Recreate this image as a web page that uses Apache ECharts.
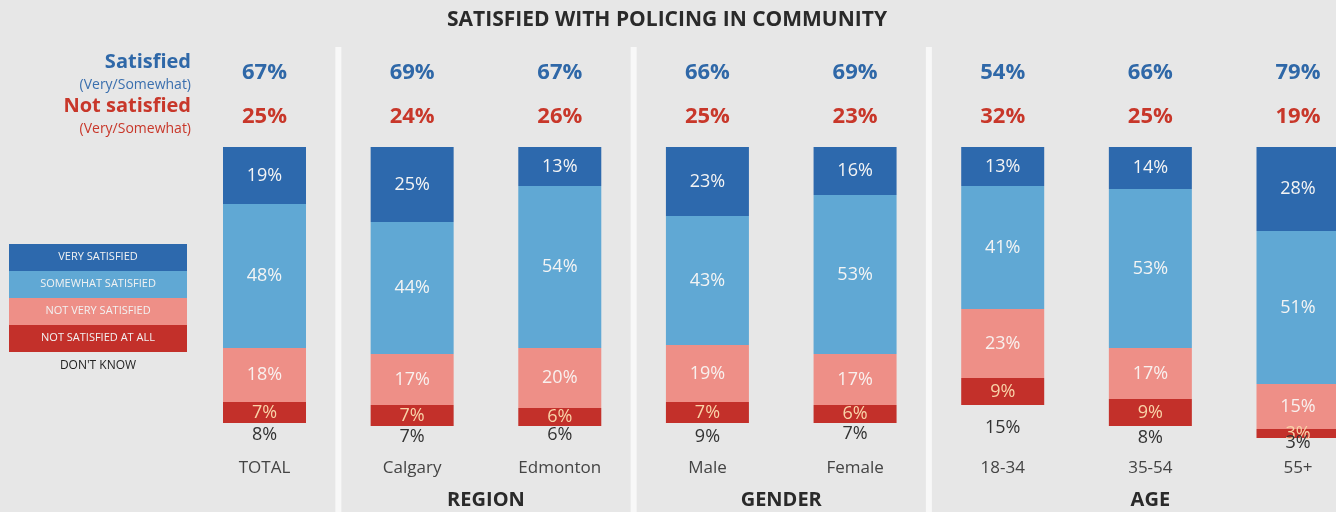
<!DOCTYPE html>
<html>
<head>
<meta charset="utf-8">
<script src="https://cdn.jsdelivr.net/npm/echarts@6/dist/echarts.min.js"></script>
<style>
html,body{margin:0;padding:0;background:#e7e7e7;}
#chart{width:1336px;height:512px;}
</style>
</head>
<body>
<div id="chart"></div>
<script>
const categories = ['TOTAL','Calgary','Edmonton','Male','Female','18-34','35-54','55+'];
const verySatisfied = [19,25,13,23,16,13,14,28];
const somewhatSatisfied = [48,44,54,43,53,41,53,51];
const notVerySatisfied = [18,17,20,19,17,23,17,15];
const notSatisfiedAtAll = [7,7,6,7,6,9,9,3];
const dontKnow = [8,7,6,9,7,15,8,3];
const satisfiedTotal = [67,69,67,66,69,54,66,79];
const notSatisfiedTotal = [25,24,26,25,23,32,25,19];
const groups = [
  {name:'REGION', from:1, to:2},
  {name:'GENDER', from:3, to:4},
  {name:'AGE', from:6, to:6}
];
const separatorsAfter = [0,2,4];
const legendItems = ['VERY SATISFIED','SOMEWHAT SATISFIED','NOT VERY SATISFIED','NOT SATISFIED AT ALL'];
const colors = ['#2d69ad','#60a8d4','#ee8f87','#c3302a'];
const FONT = '"Open Sans", "Noto Sans", sans-serif';

const chart = echarts.init(document.getElementById('chart'));

function seg(name, data, color, labelColor){
  return {
    name, type:'bar', stack:'s', data, barWidth:83, clip:false,
    itemStyle:{color},
    label:{show:true, position:'inside', formatter:'{c}%', color:labelColor, fontFamily:FONT, fontSize:18},
    emphasis:{disabled:true}, silent:true
  };
}

const option = {
  backgroundColor:'#e7e7e7',
  animation:false,
  title:{text:'SATISFIED WITH POLICING IN COMMUNITY', left:662, textAlign:'center', top:5,
    textStyle:{fontFamily:FONT, fontSize:21, fontWeight:'bold', color:'#2a2a2a'}},
  grid:{left:264.5, top:147, width:1033.5, height:300, containLabel:false},
  xAxis:[
    {type:'category', data:categories, position:'bottom', boundaryGap:false,
     axisLine:{show:false}, axisTick:{show:false},
     axisLabel:{margin:13, interval:0, color:'#444', fontFamily:FONT, fontSize:17}},
    {type:'category', data:categories, position:'top', boundaryGap:false,
     axisLine:{show:false}, axisTick:{show:false},
     axisLabel:{margin:8, interval:0,
       formatter:(v, i)=>'{a|'+satisfiedTotal[i]+'%}\n{b|'+notSatisfiedTotal[i]+'%}',
       rich:{
         a:{color:'#2f68a8', fontFamily:FONT, fontSize:22, fontWeight:'bold', lineHeight:44},
         b:{color:'#c8372a', fontFamily:FONT, fontSize:22, fontWeight:'bold', lineHeight:44}
       }}}
  ],
  yAxis:{type:'value', inverse:true, min:0, max:100, show:false, splitLine:{show:false}},
  series:[
    seg('Very satisfied', verySatisfied, colors[0], '#f4f4f4'),
    seg('Somewhat satisfied', somewhatSatisfied, colors[1], '#f4f4f4'),
    seg('Not very satisfied', notVerySatisfied, colors[2], '#f8f0ee'),
    seg('Not satisfied at all', notSatisfiedAtAll, colors[3], '#f9d3a8'),
    {name:"Don't know", type:'bar', stack:'s', data:dontKnow, barWidth:83, clip:false,
     itemStyle:{color:'rgba(0,0,0,0)'},
     label:{show:true, position:'inside', formatter:'{c}%', color:'#333', fontFamily:FONT, fontSize:18},
     silent:true}
  ]
};
chart.setOption(option);

const g = [];
separatorsAfter.forEach(i=>{
  const x1 = chart.convertToPixel({xAxisIndex:0}, categories[i]);
  const x2 = chart.convertToPixel({xAxisIndex:0}, categories[i+1]);
  g.push({type:'rect', x:(x1+x2)/2-3, y:47, shape:{width:6,height:470}, style:{fill:'#f8f8f8'}, silent:true, z:-1});
});
groups.forEach(gr=>{
  const x1 = chart.convertToPixel({xAxisIndex:0}, categories[gr.from]);
  const x2 = chart.convertToPixel({xAxisIndex:0}, categories[gr.to]);
  g.push({type:'text', x:(x1+x2)/2, y:490, style:{text:gr.name, fill:'#2a2a2a', font:'bold 20px '+FONT, align:'center'}, silent:true});
});
g.push({type:'text', x:191, y:52, style:{text:'Satisfied', fill:'#2f68a8', font:'bold 20px '+FONT, align:'right'}});
g.push({type:'text', x:191, y:78, style:{text:'(Very/Somewhat)', fill:'#3a6fae', font:'14px '+FONT, align:'right'}});
g.push({type:'text', x:191, y:96, style:{text:'Not satisfied', fill:'#c8372a', font:'bold 20px '+FONT, align:'right'}});
g.push({type:'text', x:191, y:122, style:{text:'(Very/Somewhat)', fill:'#c8372a', font:'14px '+FONT, align:'right'}});
legendItems.forEach((t,i)=>{
  g.push({type:'rect', x:9, y:244+i*27, shape:{width:178,height:27}, style:{fill:colors[i]}, silent:true});
  g.push({type:'text', x:98, y:244+i*27+7, style:{text:t, fill:'#f2f2f2', font:'11px '+FONT, align:'center'}, silent:true});
});
g.push({type:'text', x:98, y:360, style:{text:"DON'T KNOW", fill:'#222', font:'12px '+FONT, align:'center'}});
chart.setOption({graphic:g});
</script>
</body>
</html>
